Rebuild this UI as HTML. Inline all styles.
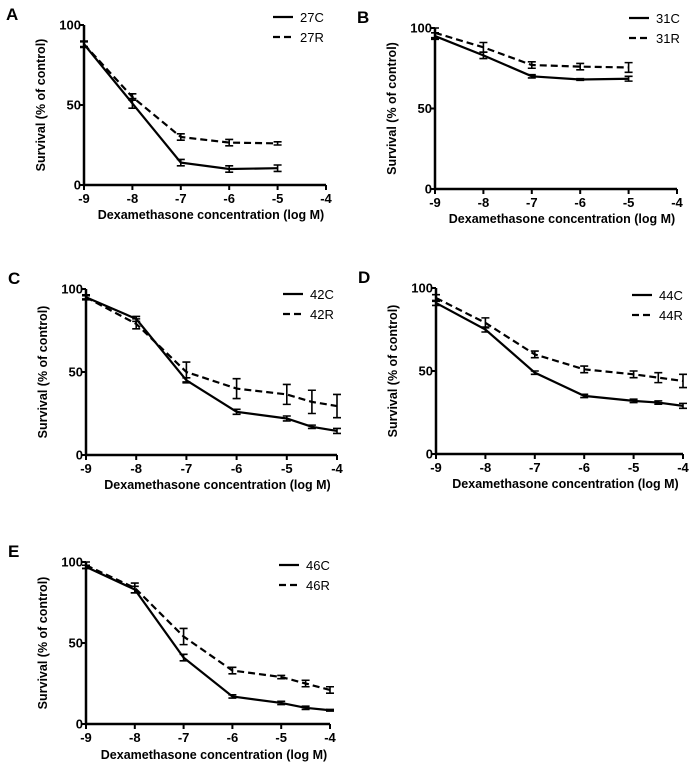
<!DOCTYPE html>
<html><head><meta charset="utf-8"><style>
body{margin:0;background:#fff;}
svg{display:block;font-family:"Liberation Sans",Arial,sans-serif;}
</style></head><body>
<svg id="fig" width="700" height="771" viewBox="0 0 700 771"></svg>
<script>
const xs5=[-9,-8,-7,-6,-5];
const xs7=[-9,-8,-7,-6,-5,-4.5,-4];
const aC=[88,51,14,10,10.5], aCe=[2,3,2,2,2];
const aR=[88,55,30,26.5,26], aRe=[1.5,2,2,2,1];
const bC=[95,83,70,68,68.5], bCe=[2,2,1,0.5,1.5];
const bR=[97,88,77,76,75.5], bRe=[3,3,2,2,3];
const cC=[95,82,45,26,22,17,14.5], cCe=[1.5,1.5,1.5,1.5,1.5,1,1.5];
const cR=[95,79,50,40,36.5,32,29.5], cRe=[1,3,6,6,6,7,7];
const dC=[91,75,49,35,32,31,29], dCe=[1.5,1.5,1,1,1,1,1.5];
const dR=[94,79,60,51,48,46,44], dRe=[2,3,2,2,2,3,4];
const eC=[97,83,41,17,13,10,8.5], eCe=[1,2,2,1,1,1,0.5];
const eR=[98,84,54,33,29,25,21], eRe=[2,3,5,2,1,2,2];
const xTicks=[-9,-8,-7,-6,-5,-4], yTicks=[0,50,100];
const NS='http://www.w3.org/2000/svg';
const svg=document.getElementById('fig');
function mk(tag,attrs,parent,text){const e=document.createElementNS(NS,tag);for(const k in attrs)e.setAttribute(k,attrs[k]);if(text!==undefined)e.textContent=text;(parent||svg).appendChild(e);return e;}
const panels=[
 {id:'a',L:'A',x0:84,x1:326,y0:185,y1:25,lx:273,ly:17,xs:xs5,C:aC,Ce:aCe,R:aR,Re:aRe,n:['27C','27R'],ty:219},
 {id:'b',L:'B',x0:435,x1:677,y0:189,y1:28,lx:629,ly:18,xs:xs5,C:bC,Ce:bCe,R:bR,Re:bRe,n:['31C','31R'],ty:223},
 {id:'c',L:'C',x0:86,x1:337,y0:455,y1:289,lx:283,ly:294,xs:xs7,C:cC,Ce:cCe,R:cR,Re:cRe,n:['42C','42R'],ty:489},
 {id:'d',L:'D',x0:436,x1:683,y0:454,y1:288,lx:632,ly:295,xs:xs7,C:dC,Ce:dCe,R:dR,Re:dRe,n:['44C','44R'],ty:488},
 {id:'e',L:'E',x0:86,x1:330,y0:724,y1:562,lx:279,ly:565,xs:xs7,C:eC,Ce:eCe,R:eR,Re:eRe,n:['46C','46R'],ty:759}
];
panels.forEach(p=>{
 const g=mk('g',{});
 
 
 const X=v=>p.x0+(v+9)/5*(p.x1-p.x0);
 const Y=v=>p.y0-v/100*(p.y0-p.y1);
 const lab=mk('text',{x:p.x0-78,y:p.y1-5,'font-size':17,'font-weight':'bold'},g,p.L);
 
 
 const ax=mk('path',{d:`M${p.x0},${p.y1} V${p.y0} H${p.x1}`,stroke:'#000','stroke-width':2.5,fill:'none'},g);
 
 
 xTicks.forEach(t=>{
  mk('line',{x1:X(t),x2:X(t),y1:p.y0,y2:p.y0+5,stroke:'#000','stroke-width':2},g);
  const tl=mk('text',{x:X(t),y:p.y0+18,'font-size':13,'font-weight':'bold','text-anchor':'middle'},g,String(t));
  
  
 });
 yTicks.forEach(t=>{
  mk('line',{x1:p.x0-5,x2:p.x0,y1:Y(t),y2:Y(t),stroke:'#000','stroke-width':2},g);
  const tl=mk('text',{x:p.x0-3,y:Y(t)+4.5,'font-size':13,'font-weight':'bold','text-anchor':'end'},g,String(t));
  
  
 });
 const xt=mk('text',{x:(p.x0+p.x1)/2+6,y:p.ty,'font-size':12.5,'font-weight':'bold','text-anchor':'middle'},g,'Dexamethasone concentration (log M)');
 
 
 const ycx=p.x0-39, ycy=(p.y0+p.y1)/2;
 const yt=mk('text',{x:ycx,y:ycy,'font-size':12.5,'font-weight':'bold','text-anchor':'middle',transform:`rotate(-90 ${ycx} ${ycy})`},g,'Survival (% of control)');
 
 
 [[p.C,p.Ce,null,p.n[0]],[p.R,p.Re,'7,4',p.n[1]]].forEach(([vals,errs,dash,name],si)=>{
  const pts=vals.map((v,i)=>X(p.xs[i])+','+Y(v)).join(' ');
  const ln=mk('polyline',{points:pts,fill:'none',stroke:'#000','stroke-width':2.2},g);
  if(dash)ln.setAttribute('stroke-dasharray',dash);
  
  
  vals.forEach((v,i)=>{
   const x=X(p.xs[i]),a=Y(v+errs[i]),b=Y(v-errs[i]);
   const eb=mk('path',{d:`M${x},${a}V${b}M${x-4},${a}H${x+4}M${x-4},${b}H${x+4}`,stroke:'#000','stroke-width':1.6,fill:'none'},g);
   
   
  });
  const ly=p.ly+si*20;
  const ll=mk('line',{x1:p.lx,x2:p.lx+20,y1:ly,y2:ly,stroke:'#000','stroke-width':2.2},g);
  if(dash)ll.setAttribute('stroke-dasharray','7,4');
  
  
  const lt=mk('text',{x:p.lx+27,y:ly+5,'font-size':13},g,name);
  
  
 });
});
</script>
</body></html>
